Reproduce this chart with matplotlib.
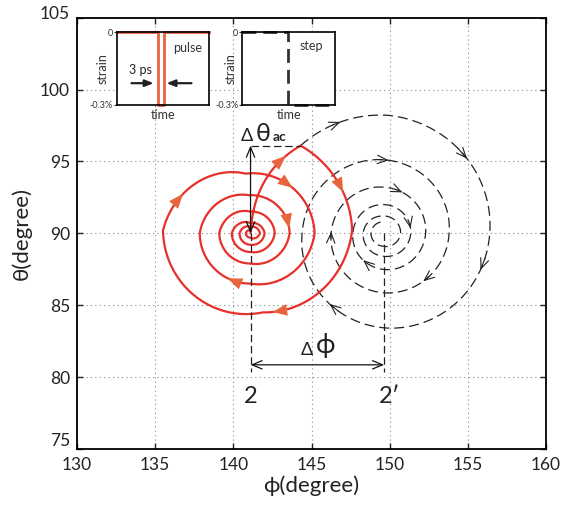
import numpy as np
import matplotlib
matplotlib.use('Agg')
import matplotlib.pyplot as plt
from matplotlib.transforms import ScaledTranslation

plt.rcParams['font.family'] = ['Lato', 'DejaVu Sans']

# ---------------- data ----------------
x_ticks = [130, 135, 140, 145, 150, 155, 160]
y_ticks = [75, 80, 85, 90, 95, 100, 105]

state2 = (141.1, 90.0)      # (phi, theta)
state2p = (149.65, 90.0)
apex = (144.3, 96.1)
dphi_level = 80.85           # theta of the delta-phi arrow
guide_bottom = 80.35

# first (kick) part of the red trajectory: start, control point, apex
kick_phi = [141.1, 141.3, 144.3]
kick_theta = [90.0, 94.2, 96.1]

# red (pulse) spiral: quarter-turn waypoints, clockwise
red_phi = [144.3, 147.6, 141.9, 135.5, 140.8, 145.2, 141.1, 137.85, 141.0, 143.6,
           141.1, 139.1, 141.1, 142.65, 141.1, 139.9, 141.1, 142.0, 141.1, 140.4,
           141.1, 141.7, 141.1, 140.8, 141.1]
red_theta = [96.1, 90.2, 84.5, 90.2, 94.15, 90.0, 86.5, 90.0, 92.65, 90.0,
             87.9, 90.0, 91.5, 90.0, 88.7, 90.0, 90.7, 90.0, 89.2, 90.0,
             90.45, 90.0, 89.7, 90.0, 90.2]

# dashed (step) spiral: quarter-turn waypoints, clockwise around 2'
step_phi = [144.3, 150.0, 156.4, 150.0, 144.4, 149.8, 153.8, 149.8, 146.25, 149.7,
            152.3, 149.5, 147.65, 149.6, 151.35, 149.6, 148.3, 149.5, 150.7, 149.6,
            148.8, 149.6]
step_theta = [96.1, 98.2, 90.0, 83.4, 90.0, 95.1, 90.0, 85.85, 90.0, 93.2,
              90.0, 87.5, 90.0, 92.0, 90.0, 88.4, 90.0, 91.2, 90.0, 89.1,
              90.0, 90.8]

# arrow-head locations along the trajectories
red_arrow_phi = [143.4, 147.0, 142.7, 136.8, 143.8, 143.6, 139.8]
red_arrow_theta = [95.2, 93.0, 84.5, 92.5, 93.45, 90.4, 87.1]
step_arrow_phi = [146.8, 155.0, 155.9, 146.35, 149.75, 146.35, 150.8, 152.3, 148.3, 151.25]
step_arrow_theta = [97.6, 95.5, 87.7, 85.1, 95.1, 90.0, 93.0, 86.7, 88.0, 90.4]

# insets
pulse_t = [0.0, 0.444, 0.444, 0.516, 0.516, 1.0]
pulse_strain = [0.0, 0.0, -0.3, -0.3, 0.0, 0.0]
step_t = [0.0, 0.496, 0.496, 1.0]
step_strain = [0.0, 0.0, -0.3, -0.3]

RED = '#E8302A'
ARROW_RED = '#E8643C'
XS, YS = 15.63, 14.37   # px per degree, used to interpolate in screen-like space


def spiral_path(phis, thetas, center, n=50):
    cx, cy = center
    px = (np.asarray(phis) - cx) * XS
    py = (np.asarray(thetas) - cy) * YS
    r = np.hypot(px, py)
    raw = np.arctan2(py, px)
    ang = [raw[0]]
    for i in range(len(raw) - 1):
        d = (raw[i] - raw[i + 1]) % (2 * np.pi)
        ang.append(ang[-1] - d)
    xs, ys = [], []
    for i in range(len(r) - 1):
        s = np.linspace(0, 1, n, endpoint=False)
        a = ang[i] + (ang[i + 1] - ang[i]) * s
        rr = r[i] + (r[i + 1] - r[i]) * s
        xs.append(cx + rr * np.cos(a) / XS)
        ys.append(cy + rr * np.sin(a) / YS)
    xs.append([phis[-1]])
    ys.append([thetas[-1]])
    return np.concatenate(xs), np.concatenate(ys)


def bezier(px, py, n=60):
    t = np.linspace(0, 1, n)
    x = (1 - t) ** 2 * px[0] + 2 * (1 - t) * t * px[1] + t ** 2 * px[2]
    y = (1 - t) ** 2 * py[0] + 2 * (1 - t) * t * py[1] + t ** 2 * py[2]
    return x, y


def add_arrows(ax, x, y, aphi, atheta, filled, color):
    for ap, at in zip(aphi, atheta):
        d = ((x - ap) * XS) ** 2 + ((y - at) * YS) ** 2
        i = int(np.argmin(d))
        i0 = max(i - 3, 0)
        i1 = min(i + 1, len(x) - 1)
        if filled:
            props = dict(arrowstyle='-|>,head_length=0.75,head_width=0.3', lw=0,
                         color=color, mutation_scale=14, shrinkA=0, shrinkB=0)
        else:
            props = dict(arrowstyle='->,head_length=0.6,head_width=0.25', lw=0.8,
                         color=color, mutation_scale=12, shrinkA=0, shrinkB=0)
        ax.annotate('', xy=(x[i1], y[i1]), xytext=(x[i0], y[i0]), arrowprops=props,
                    zorder=6)


fig = plt.figure(figsize=(5.66, 5.15), dpi=100)
ax = fig.add_axes([77 / 566, 1 - 448.9 / 515, 469 / 566, 431.2 / 515])
ax.set_xlim(130, 160)
ax.set_ylim(75, 105)
ax.set_xticks(x_ticks)
ax.set_yticks(y_ticks)
ax.tick_params(direction='in', length=4, width=1, labelsize=12.5, top=True, right=True,
               colors='#222222')
ax.tick_params(axis='x', pad=5.5)
ax.tick_params(axis='y', pad=5)
for sp in ax.spines.values():
    sp.set_linewidth(1.3)
ax.grid(True, color='#888888', linestyle=(0, (1, 3)), linewidth=0.8)
ax.set_axisbelow(True)
ax.set_xlabel('ϕ(degree)', fontsize=16, labelpad=2, color='#222222')
ax.set_ylabel('θ(degree)', fontsize=16, labelpad=6, color='#222222')

# end y tick labels sit above their ticks in the reference
fig.canvas.draw()
ylabels = ax.get_yticklabels()
ylabels[0].set_transform(ylabels[0].get_transform() +
                         ScaledTranslation(0, 0.09, fig.dpi_scale_trans))
ylabels[-1].set_transform(ylabels[-1].get_transform() +
                          ScaledTranslation(0, 0.05, fig.dpi_scale_trans))

# dashed step trajectory
sx, sy = spiral_path(step_phi, step_theta, state2p)
ax.plot(sx, sy, color='#222222', lw=0.9, linestyle=(0, (8, 4)), zorder=3)
add_arrows(ax, sx, sy, step_arrow_phi, step_arrow_theta, False, '#222222')

# red pulse trajectory
kx, ky = bezier(kick_phi, kick_theta)
rx, ry = spiral_path(red_phi, red_theta, state2)
ax.plot(np.concatenate([kx, rx]), np.concatenate([ky, ry]), color=RED, lw=1.6, zorder=4)
add_arrows(ax, np.concatenate([kx, rx]), np.concatenate([ky, ry]),
           red_arrow_phi, red_arrow_theta, True, ARROW_RED)

# guide lines
gd = dict(color='#222222', lw=0.9, linestyle=(0, (6, 3)), zorder=5)
ax.plot([state2[0], state2[0]], [state2[1], guide_bottom], **gd)
ax.plot([state2p[0], state2p[0]], [state2p[1], guide_bottom], **gd)
ax.plot([state2[0], apex[0]], [apex[1], apex[1]], **gd)

ax.annotate('', xy=(state2[0], apex[1]), xytext=(state2[0], state2[1]),
            arrowprops=dict(arrowstyle='<->,head_length=0.6,head_width=0.25', lw=0.9,
                            color='#111111', mutation_scale=12, shrinkA=0, shrinkB=0),
            zorder=6)
ax.annotate('', xy=(state2p[0], dphi_level), xytext=(state2[0], dphi_level),
            arrowprops=dict(arrowstyle='<->,head_length=0.6,head_width=0.25', lw=0.9,
                            color='#111111', mutation_scale=12, shrinkA=0, shrinkB=0),
            zorder=6)

# labels
ax.text(140.5, 96.45, 'Δ', fontsize=13, va='baseline', ha='left', color='#222222')
ax.text(141.45, 96.45, 'θ', fontsize=18, va='baseline', ha='left', color='#222222')
ax.text(142.5, 96.45, 'ac', fontsize=10, fontweight='bold', va='baseline', ha='left',
        color='#222222')
ax.text(144.3, 81.55, 'Δ', fontsize=13, va='baseline', ha='left', color='#222222')
ax.text(145.3, 81.7, 'ϕ', fontsize=19, va='baseline', ha='left', color='#222222')
ax.text(state2[0], 78.17, '2', fontsize=17, va='baseline', ha='center', color='#222222')
ax.text(149.3, 78.17, '2′', fontsize=17, va='baseline', ha='left', color='#222222')

# ---------------- insets ----------------
def setup_inset(axi, label_x):
    axi.set_xlim(0, 1)
    axi.set_ylim(-0.3, 0)
    axi.set_xticks([])
    axi.set_yticks([-0.3, 0])
    axi.set_yticklabels(['-0.3%', '0'])
    axi.tick_params(axis='y', labelsize=6.5, length=2, pad=1, colors='#333333')
    for sp in axi.spines.values():
        sp.set_linewidth(1.2)
    axi.set_ylabel('strain', fontsize=9, color='#333333')
    axi.yaxis.set_label_coords(label_x, 0.5)
    axi.set_xlabel('time', fontsize=9, labelpad=3, color='#333333')
    axi.set_facecolor('white')

ax1 = fig.add_axes([116.7 / 566, 1 - 105 / 515, 92.3 / 566, 72.7 / 515])
setup_inset(ax1, -0.09)
ax1.plot(pulse_t, pulse_strain, color=ARROW_RED, lw=2.0, clip_on=False)
ax1.text(0.77, 0.79, 'pulse', transform=ax1.transAxes, fontsize=9, ha='center',
         va='center', color='#333333')
ax1.text(0.26, 0.48, '3 ps', transform=ax1.transAxes, fontsize=9, ha='center',
         va='center', color='#222222')
ap = dict(arrowstyle='-|>,head_length=0.5,head_width=0.2', lw=1.6, color='#222222',
          mutation_scale=10, shrinkA=0, shrinkB=0)
ax1.annotate('', xy=(0.40, 0.30), xytext=(0.16, 0.30), xycoords='axes fraction',
             textcoords='axes fraction', arrowprops=ap)
ax1.annotate('', xy=(0.54, 0.30), xytext=(0.81, 0.30), xycoords='axes fraction',
             textcoords='axes fraction', arrowprops=ap)

ax2 = fig.add_axes([242.3 / 566, 1 - 105 / 515, 92.7 / 566, 72.7 / 515])
setup_inset(ax2, -0.06)
ax2.plot(step_t, step_strain, color='#333333', lw=2.0, linestyle=(0, (5, 2.5)),
         clip_on=False)
ax2.text(0.74, 0.81, 'step', transform=ax2.transAxes, fontsize=9, ha='center',
         va='center', color='#333333')

fig.savefig('out.png', dpi=100)
